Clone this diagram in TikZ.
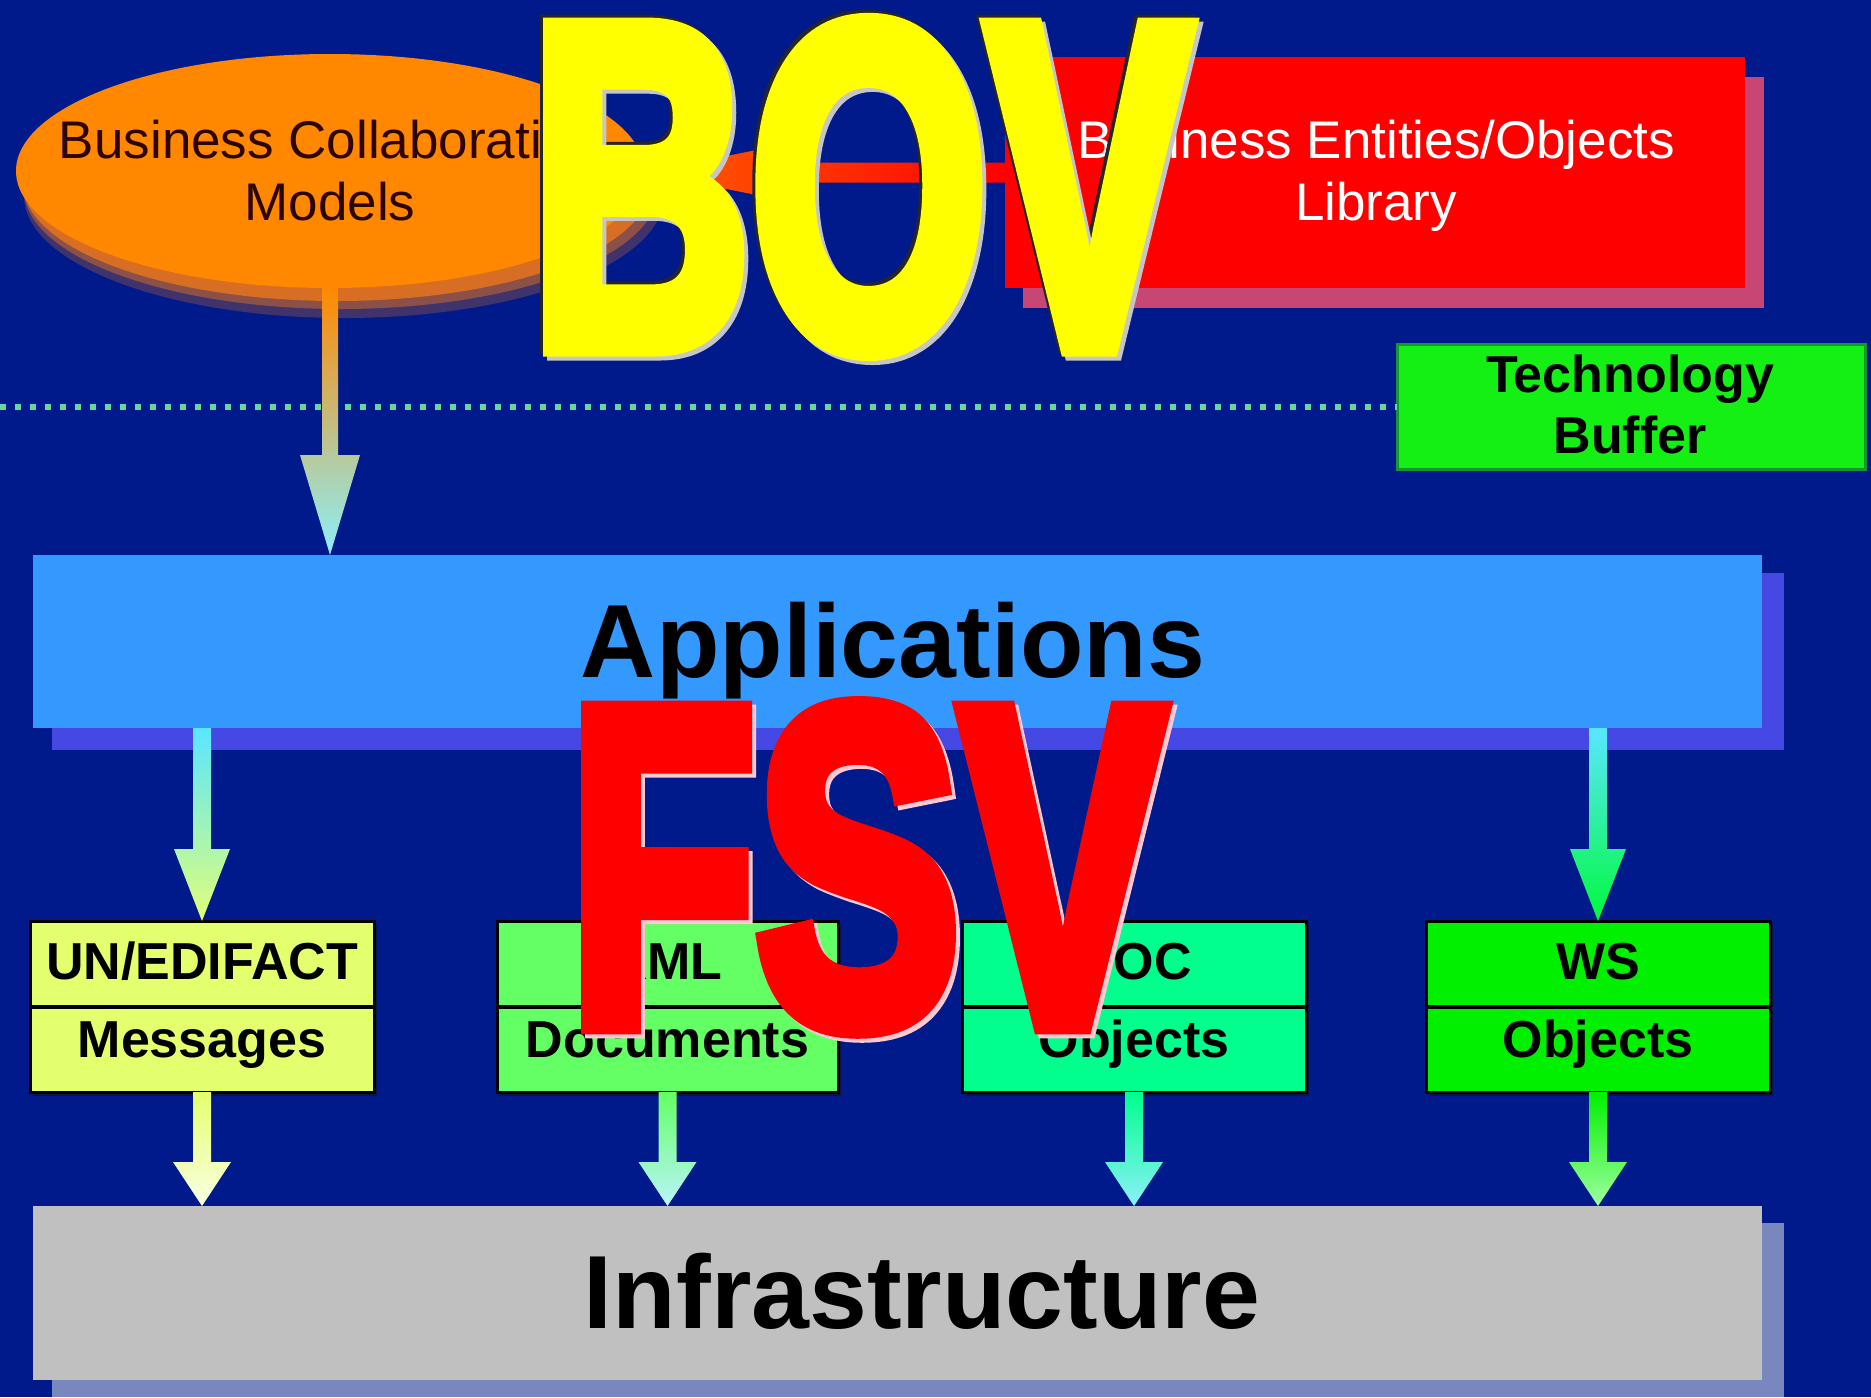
\documentclass[tikz,border=0pt]{standalone}
\usepackage{fontspec}
\setmainfont{Liberation Sans}
\newfontface\heavyfont[FakeBold=5]{Liberation Sans Bold}
\usetikzlibrary{shapes.geometric,fit,calc}
\definecolor{bg}{RGB}{0,26,140}
\definecolor{orangeE}{RGB}{255,136,0}
\definecolor{orangeS}{RGB}{215,110,35}
\definecolor{orangeR}{RGB}{255,95,0}
\definecolor{redbox}{RGB}{255,0,0}
\definecolor{redshadow}{RGB}{200,70,115}
\definecolor{appblue}{RGB}{51,153,255}
\definecolor{appshadow}{RGB}{70,72,228}
\definecolor{techgreen}{RGB}{20,240,20}
\definecolor{techborder}{RGB}{20,150,50}
\definecolor{dotgreen}{RGB}{100,215,160}
\definecolor{unfill}{RGB}{228,255,110}
\definecolor{xmlfill}{RGB}{100,255,100}
\definecolor{docfill}{RGB}{0,255,140}
\definecolor{wsfill}{RGB}{0,240,0}
\definecolor{infgray}{RGB}{192,192,192}
\definecolor{infshadow}{RGB}{120,135,190}
\definecolor{boxshadow}{RGB}{10,20,60}
\definecolor{bovyellow}{RGB}{255,255,0}
\definecolor{fsvred}{RGB}{255,0,0}
\definecolor{fsvpink}{RGB}{255,200,210}
\definecolor{darktext}{RGB}{45,5,0}
\definecolor{arrowcyan}{RGB}{140,240,250}
\definecolor{cyantop}{RGB}{90,230,255}
\definecolor{unarrow}{RGB}{225,255,120}
\definecolor{wsarrow}{RGB}{0,250,60}
\definecolor{palecyan}{RGB}{185,245,250}
\definecolor{palegreen}{RGB}{160,255,160}
\tikzset{
  lbl/.style={anchor=base, inner sep=0, font=\fontsize{26.5}{31}\selectfont},
  blbl/.style={anchor=base, inner sep=0, font=\fontsize{26}{31}\selectfont\bfseries},
  biglbl/.style={anchor=base, inner sep=0, font=\fontsize{52}{60}\selectfont\bfseries},
  area/.style={inner sep=0, outer sep=0, draw=none},
  dbox/.style={inner sep=0, outer sep=0, draw=black, line width=1.5pt},
  bigletters/.style={anchor=base west, inner sep=0, font=\heavyfont},
}
% shaded block arrow from #1 down to #2: colours #3 (top) #4 (bottom),
% shaft half width #5, head half width #6, head length #7
\newcommand{\fatarrow}[7]{%
  \path[top color=#3, bottom color=#4] let \p1=(#1), \p2=(#2) in
    (\x1-#5,\y1) -- (\x1-#5,\y2+#7) -- (\x1-#6,\y2+#7) -- (\x1,\y2)
    -- (\x1+#6,\y2+#7) -- (\x1+#5,\y2+#7) -- (\x1+#5,\y1) -- cycle;}
% two part box: name, left x, right x, fill, top text, bottom text
\newcommand{\twobox}[6]{%
  \fill[boxshadow] (#2+3,925) rectangle (#3+3,1096);
  \node[dbox, fill=#4, fit={(#2,921) (#3,1092)}] (#1) {};
  \draw[line width=2pt] (#1.west) -- (#1.east);
  \node[blbl] (#1top) at ({(#2+#3)/2},979) {#5};
  \node[blbl] (#1bot) at ({(#2+#3)/2},1057) {#6};}
\begin{document}
\begin{tikzpicture}[x=0.5pt,y=-0.5pt]
\fill[bg] (0,0) rectangle (1871,1397);
\useasboundingbox (0,0) rectangle (1871,1397);
% ---- ellipse with soft shadow
\fill[orangeS, opacity=0.3] (344,196) ellipse [x radius=160pt, y radius=61pt];
\fill[orangeS, opacity=0.5] (341,190) ellipse [x radius=158.5pt, y radius=59.5pt];
\fill[orangeS] (337,184) ellipse [x radius=157pt, y radius=58.5pt];
\node[ellipse, fill=orangeE, minimum width=314pt, minimum height=117pt, inner sep=0, outer sep=0] (ell) at (330,171) {};
\node[lbl, text=darktext] (ellt1) at (330,158) {Business Collaboration};
\node[lbl, text=darktext] (ellt2) at (330,220) {Models};
% ---- library box
\fill[redshadow] (1023,77) rectangle (1764,308);
\node[area, fill=redbox, fit={(1005,57) (1745,288)}] (lib) {};
\node[lbl, text=white] (libt1) at (1376,158) {Business Entities/Objects};
\node[lbl, text=white] (libt2) at (1376,220) {Library};
% connector library -> ellipse
\path[left color=orangeR, right color=redbox] let \p1=(lib.west), \p2=(ell.east) in
  (\x1,\y1-5pt) -- (\x2+65pt,\y1-5pt) -- (\x2+65pt,\y1-13pt) -- (\x2,\y1)
  -- (\x2+65pt,\y1+13pt) -- (\x2+65pt,\y1+5pt) -- (\x1,\y1+5pt) -- cycle;
% ---- technology buffer and dotted line
\node[area, fill=techgreen, draw=techborder, line width=1.5pt, fit={(1397,344) (1865,469)}] (tech) {};
\node[blbl] (tech1) at (1630,392) {Technology};
\node[blbl] (tech2) at (1630,453) {Buffer};
\coordinate (dotstart) at (0,407);
\draw[dotgreen, line width=2.8pt, dash pattern=on 3pt off 4.5pt] (dotstart) -- (dotstart -| tech.west);
% ---- applications
\fill[appshadow] (52,573) rectangle (1784,750);
\node[area, fill=appblue, fit={(33,555) (1762,728)}] (app) {};
\node[biglbl] (appt) at (893,677) {Applications};
\fatarrow{ell.south}{ell.south |- app.north}{orangeE}{arrowcyan}{4pt}{15pt}{50pt}
% ---- format boxes
\twobox{un}{30}{374}{unfill}{UN/EDIFACT}{Messages}
\twobox{xml}{497}{838}{xmlfill}{XML}{Documents}
\twobox{doc}{962}{1306}{docfill}{DOC}{Objects}
\twobox{ws}{1426}{1770}{wsfill}{WS}{Objects}
\fatarrow{un.north |- app.south}{un.north}{cyantop}{unarrow}{4.5pt}{14pt}{36pt}
\fatarrow{ws.north |- app.south}{ws.north}{cyantop}{wsarrow}{4.5pt}{14pt}{36pt}
% ---- infrastructure
\fill[infshadow] (52,1223) rectangle (1784,1397);
\node[area, fill=infgray, fit={(33,1206) (1762,1380)}] (inf) {};
\node[biglbl] (inft) at (922,1328) {Infrastructure};
\fatarrow{un.south}{un.south |- inf.north}{unfill}{white!80!unfill}{4.5pt}{14.5pt}{22pt}
\fatarrow{xml.south}{xml.south |- inf.north}{xmlfill}{palecyan}{4.5pt}{14.5pt}{22pt}
\fatarrow{doc.south}{doc.south |- inf.north}{docfill}{arrowcyan}{4.5pt}{14.5pt}{22pt}
\fatarrow{ws.south}{ws.south |- inf.north}{wsfill}{palegreen}{4.5pt}{14.5pt}{22pt}
% ---- big overlay letters
\node[bigletters, text=black!85] (bovd) at (527,342) {\resizebox{330pt}{160pt}{BOV}};
\node[bigletters, text=gray!45] (bovs) at (534,349) {\resizebox{330pt}{160pt}{BOV}};
\node[bigletters, text=bovyellow] (bov) at (530,345) {\resizebox{330pt}{160pt}{BOV}};
\node[bigletters, text=fsvpink] (fsvs) at (572,1027) {\resizebox{298pt}{157.5pt}{FSV}};
\node[bigletters, text=fsvred] (fsv) at (568,1023) {\resizebox{298pt}{157.5pt}{FSV}};
\end{tikzpicture}
\end{document}
